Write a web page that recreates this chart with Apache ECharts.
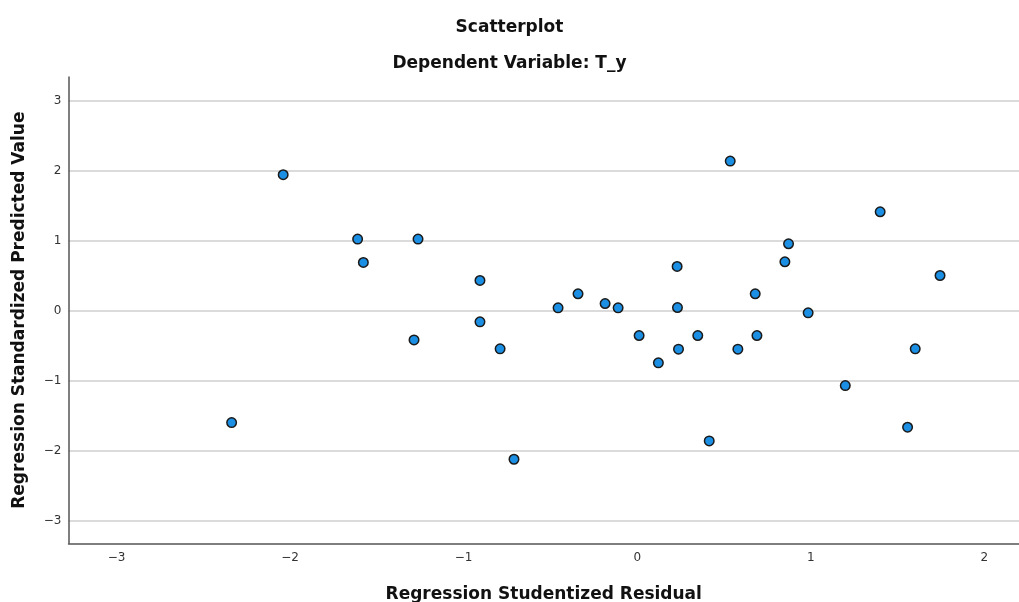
<!DOCTYPE html>
<html>
<head>
<meta charset="utf-8">
<script src="https://cdn.jsdelivr.net/npm/echarts@6/dist/echarts.min.js"></script>
<style>html,body{margin:0;padding:0;background:#fff}#c{width:1019px;height:602px}</style>
</head>
<body>
<div id="c"></div>
<script>
// Regression Studentized Residual (x)
const residuals = [-2.337, -2.040, -1.611, -1.578, -1.263, -1.286, -0.906, -0.906, -0.790, -0.710,
  -0.456, -0.341, -0.185, -0.110, 0.011, 0.122, 0.230, 0.232, 0.238, 0.349,
  0.580, 0.536, 0.680, 0.690, 0.851, 0.872, 0.985, 1.199, 1.400, 1.558,
  1.602, 1.745, 0.415];
// Regression Standardized Predicted Value (y)
const predicted = [-1.600, 1.939, 1.020, 0.686, 1.020, -0.419, 0.429, -0.161, -0.547, -2.123,
  0.039, 0.239, 0.100, 0.039, -0.357, -0.747, 0.629, 0.043, -0.551, -0.357,
  -0.551, 2.134, 0.239, -0.357, 0.696, 0.953, -0.033, -1.071, 1.410, -1.666,
  -0.547, 0.500, -1.861];
const xTicks = [-3, -2, -1, 0, 1, 2];
const yTicks = [-3, -2, -1, 0, 1, 2, 3];

const data = residuals.map((x, i) => [x, predicted[i]]);
const font = '"DejaVu Sans", sans-serif';
const chart = echarts.init(document.getElementById('c'));
chart.setOption({
  animation: false,
  title: [
    { text: 'Scatterplot', left: 'center', top: 14,
      textStyle: { fontFamily: font, fontSize: 17, fontWeight: 'bold', color: '#111' } },
    { text: 'Dependent Variable: T_y', left: 'center', top: 50,
      textStyle: { fontFamily: font, fontSize: 17, fontWeight: 'bold', color: '#111' } }
  ],
  grid: { left: 68.5, right: 0, top: 77, bottom: 58.7, containLabel: false, outerBoundsMode: 'none' },
  xAxis: {
    type: 'value', min: -3.277, max: 2.2,
    name: 'Regression Studentized Residual', nameLocation: 'middle', nameGap: 43,
    nameTextStyle: { fontFamily: font, fontSize: 17, fontWeight: 'bold', color: '#111' },
    axisLine: { show: true, onZero: false, lineStyle: { color: '#555', width: 1.5 } },
    axisTick: { show: false, customValues: xTicks },
    axisLabel: { customValues: xTicks, fontFamily: font, fontSize: 12, color: '#333', margin: 9,
      formatter: v => (v < 0 ? '\u2212' + Math.abs(v) : String(v)) },
    splitLine: { show: false }
  },
  yAxis: {
    type: 'value', min: -3.323, max: 3.334,
    name: 'Regression Standardized Predicted Value', nameLocation: 'middle', nameGap: 40,
    nameTextStyle: { fontFamily: font, fontSize: 17, fontWeight: 'bold', color: '#111' },
    axisLine: { show: true, onZero: false, lineStyle: { color: '#555', width: 1.5 } },
    axisTick: { show: false, customValues: yTicks },
    axisLabel: { customValues: yTicks, fontFamily: font, fontSize: 12, color: '#333', margin: 7,
      formatter: v => (v < 0 ? '\u2212' + Math.abs(v) : String(v)) },
    splitLine: { show: true, lineStyle: { color: '#cfcfcf', width: 1.5 } }
  },
  series: [{
    type: 'scatter', data: data, symbol: 'circle', symbolSize: 9.5,
    itemStyle: { color: '#1b8fe3', borderColor: '#1a1a1a', borderWidth: 1.5, opacity: 1 }
  }]
});
</script>
</body>
</html>
